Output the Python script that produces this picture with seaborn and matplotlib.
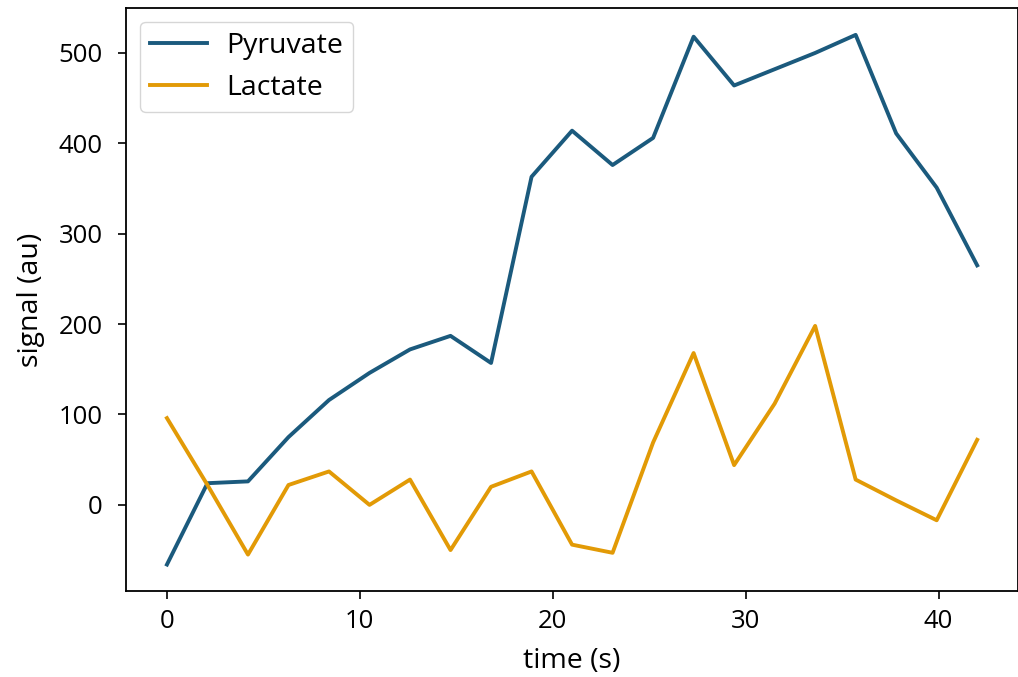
import matplotlib
matplotlib.use("Agg")
import matplotlib.pyplot as plt
import seaborn as sns
import pandas as pd

time_s = [0.0, 2.1, 4.2, 6.3, 8.4, 10.5, 12.6, 14.7, 16.8, 18.9, 21.0,
          23.1, 25.2, 27.3, 29.4, 31.5, 33.6, 35.7, 37.8, 39.9, 42.0]
pyruvate = [-66, 24, 26, 75, 116, 146, 172, 187, 157, 363, 414,
            376, 406, 518, 464, 482, 500, 520, 411, 351, 265]
lactate = [96, 22, -55, 22, 37, 0, 28, -50, 20, 37, -44,
           -53, 69, 168, 44, 112, 198, 28, 5, -17, 72]
series_names = ["Pyruvate", "Lactate"]
colors = ["#1b5a7d", "#e29a06"]

df = pd.concat([
    pd.DataFrame({"time": time_s, "signal": pyruvate, "series": series_names[0]}),
    pd.DataFrame({"time": time_s, "signal": lactate, "series": series_names[1]}),
])

plt.rcParams["font.family"] = ["Open Sans", "DejaVu Sans"]
FS_LABEL = 20.5
FS_TICK = 18.5
FS_LEG = 20.5

fig = plt.figure(figsize=(10.18, 6.77), dpi=100)
ax = fig.add_axes([0.1242, 0.127, 0.8755, 0.8606])
sns.lineplot(data=df, x="time", y="signal", hue="series",
             palette=dict(zip(series_names, colors)), linewidth=2.8, ax=ax)

ax.set_xlabel("time (s)", fontsize=FS_LABEL, labelpad=9)
ax.set_ylabel("signal (au)", fontsize=FS_LABEL, labelpad=10)
ax.set_xticks([0, 10, 20, 30, 40])
ax.set_yticks([0, 100, 200, 300, 400, 500])
ax.tick_params(axis="x", labelsize=FS_TICK, length=6, width=1.2, pad=7)
ax.tick_params(axis="y", labelsize=FS_TICK, length=6, width=1.2, pad=11)
for s in ax.spines.values():
    s.set_linewidth(1.3)
leg = ax.legend(loc="upper left", fontsize=FS_LEG, handlelength=2.0,
                borderaxespad=0.47, handletextpad=0.7, borderpad=0.35)
leg.set_title(None)
ax.margins(x=0.05, y=0.05)

fig.savefig("out.png", dpi=100)
